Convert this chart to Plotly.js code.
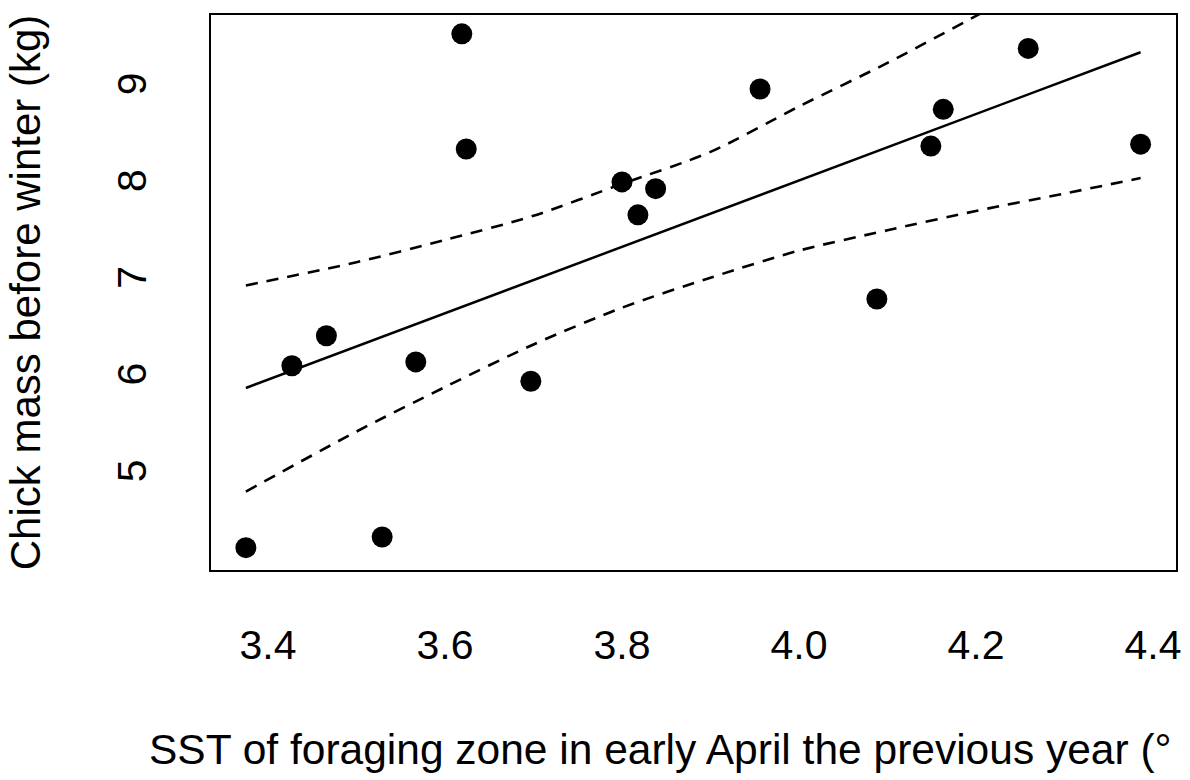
<!DOCTYPE html>
<html>
<head>
<meta charset="utf-8">
<script src="https://cdn.plot.ly/plotly-3.0.1.min.js"></script>
<style>
  html, body { margin: 0; padding: 0; background: #ffffff; }
  #chart { width: 1190px; height: 780px; }
</style>
</head>
<body>
<div id="chart"></div>
<script>
// Observed points: SST (°C) vs chick mass (kg)
var sstX = [3.375, 3.427, 3.466, 3.529, 3.567, 3.619, 3.624, 3.697, 3.800, 3.818, 3.838, 3.956, 4.088, 4.149, 4.163, 4.259, 4.386];
var massY = [4.27, 6.15, 6.46, 4.38, 6.19, 9.58, 8.39, 5.99, 8.05, 7.71, 7.98, 9.01, 6.84, 8.42, 8.80, 9.43, 8.44];

// Fitted regression line (read at its ends)
var fitX = [3.375, 4.386];
var fitY = [5.92, 9.39];

// Upper confidence band
var upperX = [3.375, 3.50, 3.60, 3.70, 3.80, 3.90, 4.00, 4.10, 4.205];
var upperY = [6.98, 7.22, 7.45, 7.70, 8.03, 8.36, 8.83, 9.28, 9.79];

// Lower confidence band
var lowerX = [3.375, 3.50, 3.60, 3.70, 3.80, 3.90, 4.00, 4.10, 4.20, 4.30, 4.386];
var lowerY = [4.85, 5.47, 5.93, 6.37, 6.75, 7.06, 7.34, 7.55, 7.75, 7.93, 8.09];

// Tick labels
var xTickVals = [3.4, 3.6, 3.8, 4.0, 4.2, 4.4];
var xTickText = ["3.4", "3.6", "3.8", "4.0", "4.2", "4.4"];
var yTickVals = [5, 6, 7, 8, 9];
var yTickText = ["5", "6", "7", "8", "9"];

// Axis titles (x title is cut at the right edge in the reference; visible part kept)
var xTitle = "SST of foraging zone in early April the previous year (°";
var yTitle = "Chick mass before winter (kg)";

var FONT = "Liberation Sans, Arial, Helvetica, sans-serif";

var traces = [
  {
    x: upperX, y: upperY, type: "scatter", mode: "lines",
    line: { color: "#000000", width: 2.6, dash: "12px,9px", shape: "spline", smoothing: 0.8 },
    hoverinfo: "skip", showlegend: false
  },
  {
    x: lowerX, y: lowerY, type: "scatter", mode: "lines",
    line: { color: "#000000", width: 2.6, dash: "12px,9px", shape: "spline", smoothing: 0.8 },
    hoverinfo: "skip", showlegend: false
  },
  {
    x: fitX, y: fitY, type: "scatter", mode: "lines",
    line: { color: "#000000", width: 2.5 },
    hoverinfo: "skip", showlegend: false
  },
  {
    x: sstX, y: massY, type: "scatter", mode: "markers",
    marker: { color: "#000000", size: 21, line: { width: 0 } },
    cliponaxis: false, showlegend: false
  }
];

var layout = {
  width: 1190,
  height: 780,
  paper_bgcolor: "#ffffff",
  plot_bgcolor: "#ffffff",
  showlegend: false,
  margin: { l: 211, r: 14, t: 15, b: 210, pad: 0 },
  font: { family: FONT, color: "#000000", size: 41 },
  xaxis: {
    range: [3.3356, 4.426],
    tickmode: "array",
    tickvals: xTickVals,
    ticktext: xTickText,
    ticks: "",
    showgrid: false,
    zeroline: false,
    showline: true,
    mirror: true,
    linecolor: "#000000",
    linewidth: 2,
    ticklabelstandoff: 38,
    tickfont: { family: FONT, size: 41, color: "#000000" },
    automargin: false
  },
  yaxis: {
    range: [4.039, 9.775],
    tickmode: "array",
    tickvals: yTickVals,
    ticktext: yTickText,
    tickangle: -90,
    ticks: "",
    showgrid: false,
    zeroline: false,
    showline: true,
    mirror: true,
    linecolor: "#000000",
    linewidth: 2,
    ticklabelstandoff: 47,
    tickfont: { family: FONT, size: 41, color: "#000000" },
    automargin: false,
    title: { text: yTitle, font: { family: FONT, size: 42, color: "#000000" }, standoff: 55 }
  },
  annotations: [
    {
      text: xTitle,
      xref: "paper", yref: "paper",
      x: -0.066, y: -0.3243,
      xanchor: "left", yanchor: "middle",
      showarrow: false,
      font: { family: FONT, size: 42.5, color: "#000000" }
    }
  ]
};

Plotly.newPlot("chart", traces, layout, { displayModeBar: false, staticPlot: true });
</script>
</body>
</html>
